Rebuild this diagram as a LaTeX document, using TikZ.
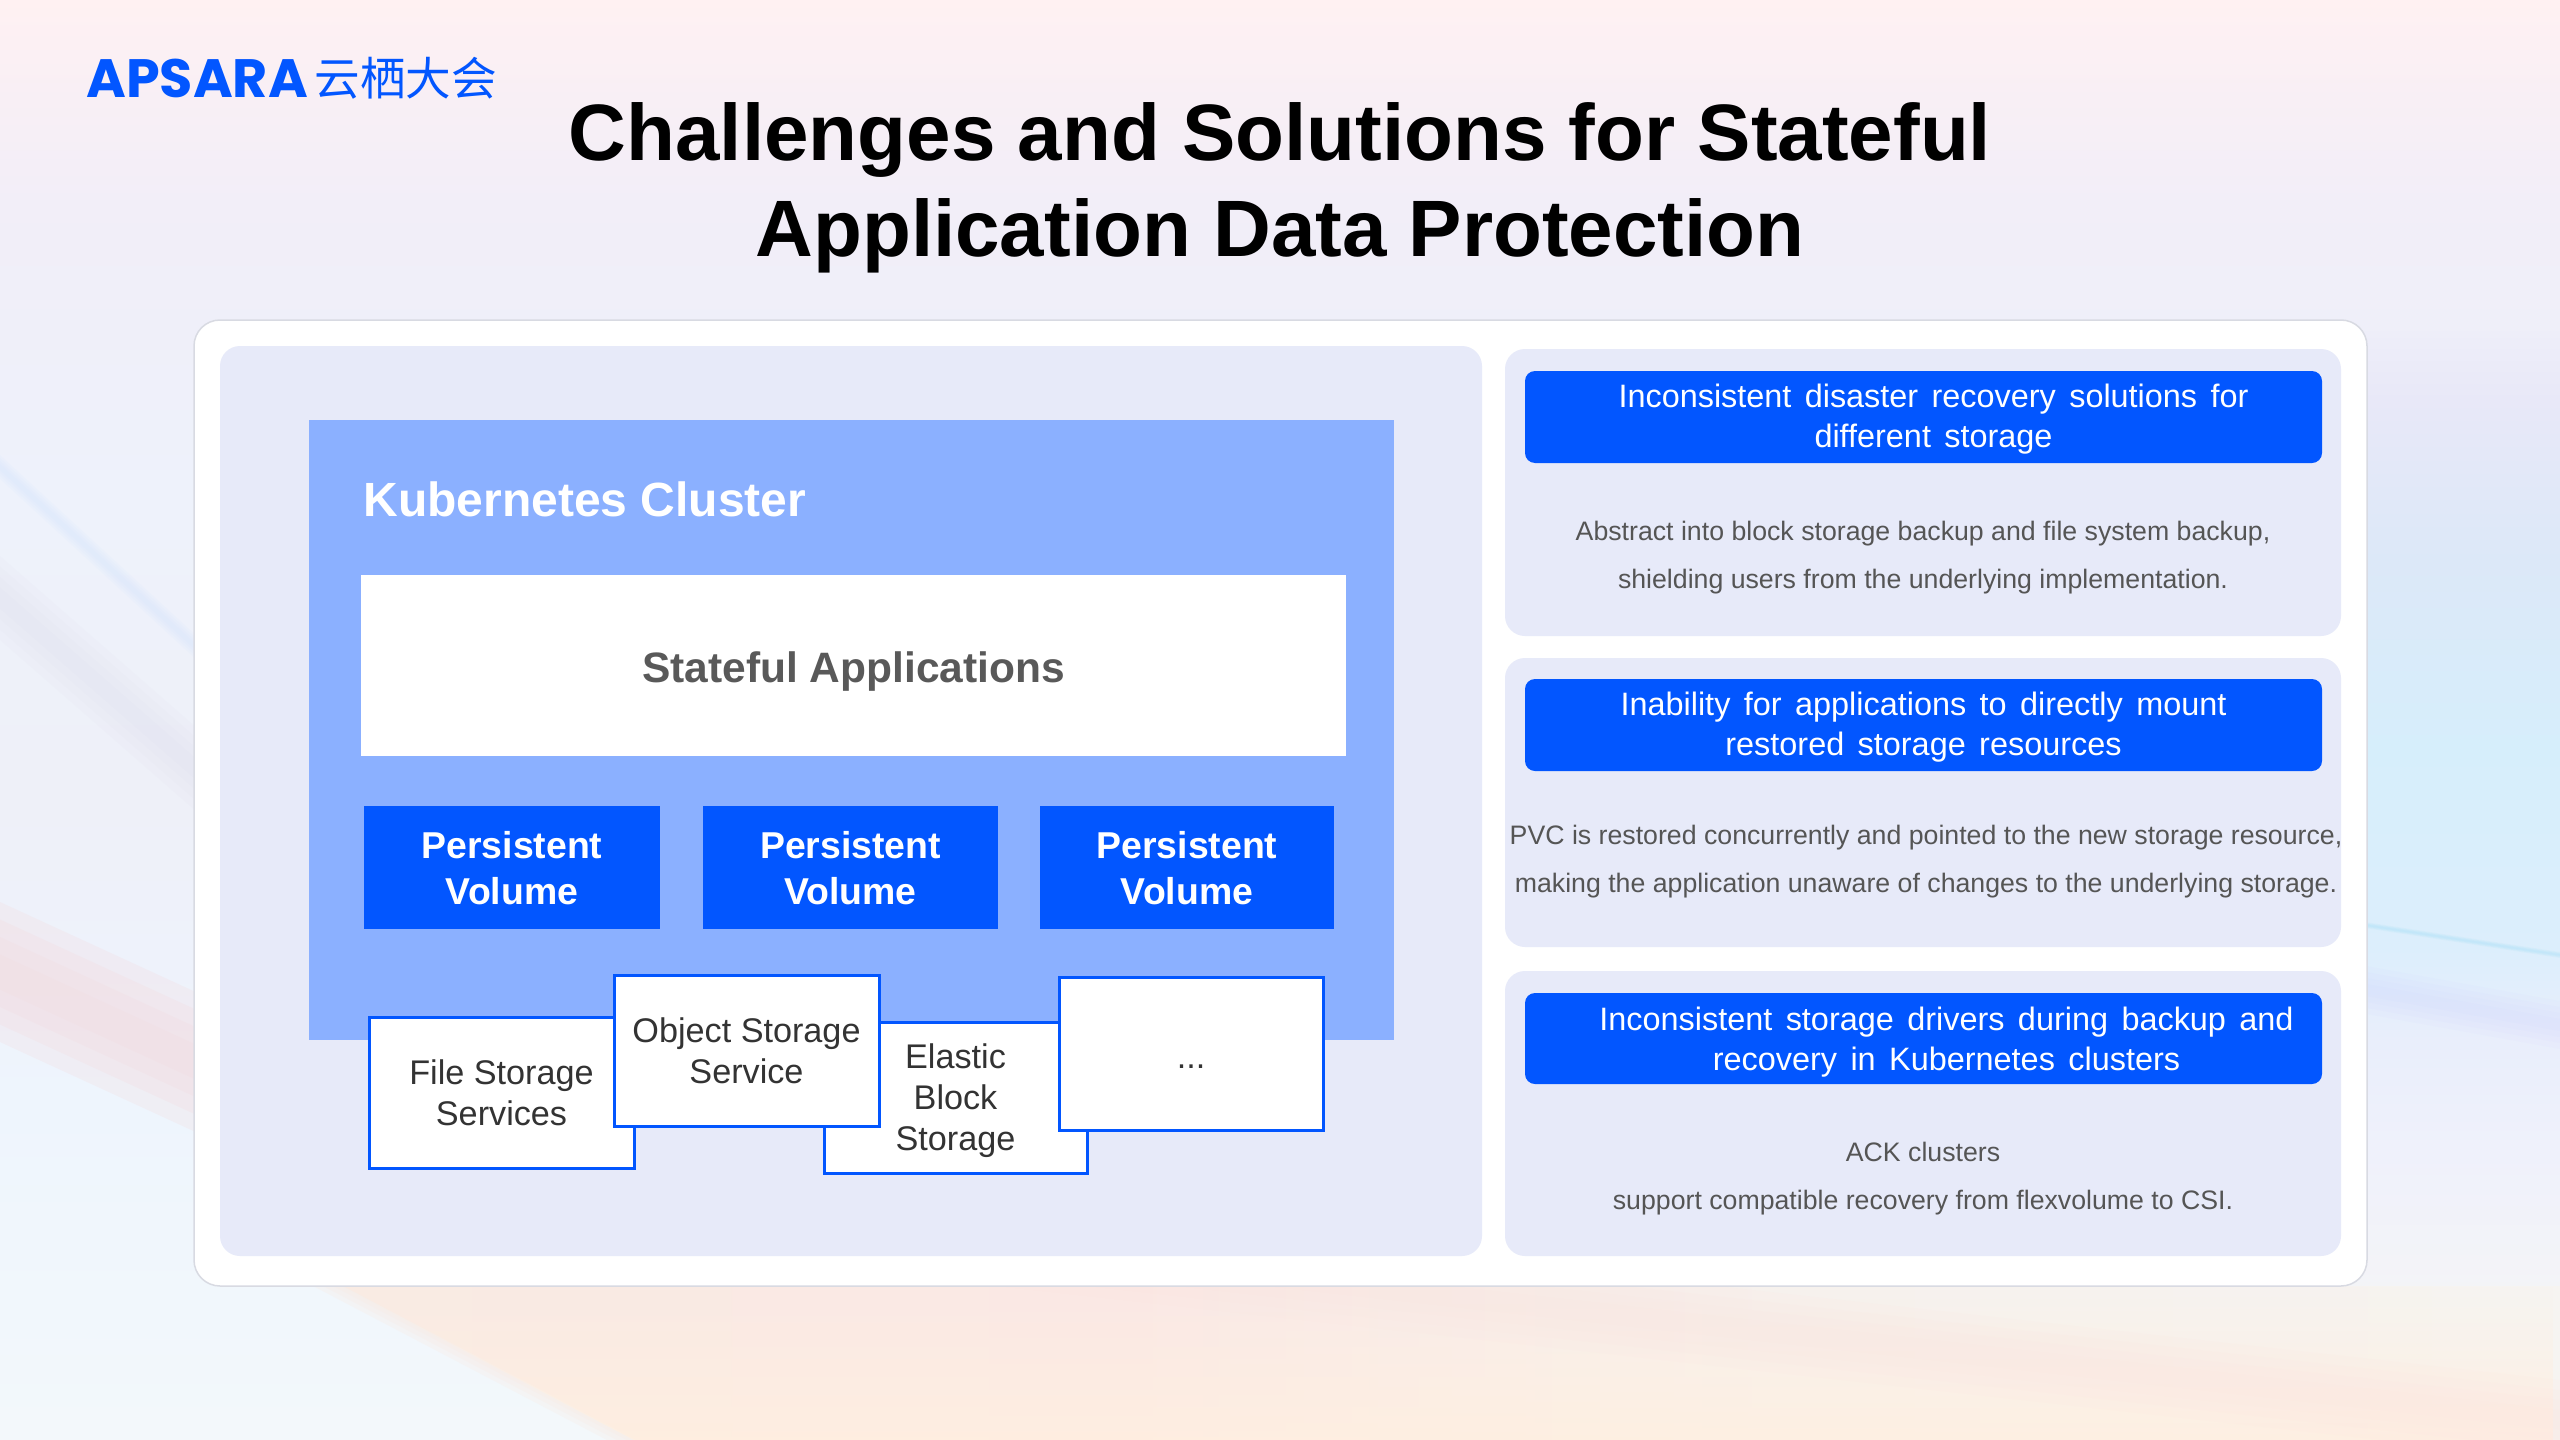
\documentclass[tikz,border=0pt]{standalone}
\usepackage{fontspec}
\usetikzlibrary{fadings,calc}
\setmainfont{Liberation Sans}
\newfontfamily\headfont[WordSpace=1.2]{Liberation Sans}
\newfontfamily\headwidefont[WordSpace=1.49]{Liberation Sans}
\newfontfamily\cjkfont{Noto Sans CJK SC}
\newfontfamily\logofont{Poppins}
\definecolor{brand}{HTML}{0256FF}
\definecolor{sky}{HTML}{8BB0FF}
\definecolor{panel}{HTML}{E7EAF9}
\definecolor{bodytext}{HTML}{555555}
\definecolor{darktext}{HTML}{333333}
\definecolor{appstext}{HTML}{595959}
\definecolor{sheetedge}{HTML}{D8DAE2}
% backdrop palette
\definecolor{bgA}{HTML}{FFF1F2}
\definecolor{bgB}{HTML}{F8EFF5}
\definecolor{bgC}{HTML}{F2EEF8}
\definecolor{bgD}{HTML}{EFEFF9}
\definecolor{rA}{HTML}{E8E8F8}
\definecolor{rB}{HTML}{DCE8F8}
\definecolor{rC}{HTML}{D6EEFB}
\definecolor{rD}{HTML}{DCEEFC}
\definecolor{rE}{HTML}{E9EEFB}
\definecolor{rF}{HTML}{EFF1FB}
\definecolor{rG}{HTML}{F4F4F7}
\definecolor{rH}{HTML}{FAF5F1}
\definecolor{rI}{HTML}{FDEAE2}
\definecolor{lA}{HTML}{EEF2FB}
\definecolor{lB}{HTML}{EEF0F8}
\definecolor{lC}{HTML}{F3DCE0}
\definecolor{lD}{HTML}{EEF5FD}
\definecolor{lE}{HTML}{F3F8FB}
\definecolor{pA}{HTML}{F9EBE4}
\definecolor{pB}{HTML}{FAE8E5}
\definecolor{pC}{HTML}{F6F2EE}
\definecolor{pD}{HTML}{F6F4F1}
\definecolor{peachglow}{HTML}{FFEFE0}
\definecolor{pinkband}{HTML}{FDE6E1}
% TikZ maps the 25bp--75bp span of a shading onto the filled path
\pgfdeclareverticalshading{topwash}{100bp}{color(0bp)=(bgD); color(25bp)=(bgD); color(44.5bp)=(bgC); color(60bp)=(bgB); color(75bp)=(bgA); color(100bp)=(bgA)}
\pgfdeclareverticalshading{rightwash}{100bp}{color(0bp)=(rI); color(25bp)=(rI); color(26.8bp)=(rH); color(31.25bp)=(rG); color(38bp)=(rF); color(42.85bp)=(rE); color(46.9bp)=(rD); color(55.8bp)=(rC); color(64.3bp)=(rB); color(71.4bp)=(rA); color(75bp)=(bgD); color(100bp)=(bgD)}
\pgfdeclareverticalshading{leftwash}{100bp}{color(0bp)=(lE); color(25bp)=(lE); color(40.2bp)=(lD); color(46.4bp)=(lA); color(53.6bp)=(lB); color(67bp)=(lA); color(75bp)=(bgD); color(100bp)=(bgD)}
\pgfdeclarehorizontalshading{peachwash}{100bp}{color(0bp)=(pA); color(25bp)=(pA); color(42.5bp)=(pB); color(57.5bp)=(pC); color(75bp)=(pD); color(100bp)=(pD)}
\tikzset{
  sheet/.style={fill=white, draw=sheetedge, line width=0.75pt, rounded corners=13pt},
  cardbox/.style={fill=panel, rounded corners=10pt},
  appsbox/.style={fill=white, text=appstext, font=\bfseries\fontsize{21.25}{25}\selectfont, inner sep=0pt, text depth=0pt, text height=16.6pt},
  headbox/.style={fill=brand, rounded corners=5pt, text=white, align=center, font=\headfont\fontsize{16.21}{20}\selectfont, inner sep=0pt, text depth=1.6pt},
  volbox/.style={fill=brand, text=white, align=center, font=\bfseries\fontsize{18.7}{23}\selectfont, inner sep=0pt, text depth=-1.6pt},
  storebox/.style={draw=brand, line width=1.5pt, fill=white, text=darktext, align=center, font=\fontsize{17.1}{20.5}\selectfont, inner sep=0pt},
  note/.style={text=bodytext, align=center, font=\fontsize{13.35}{24}\selectfont, inner sep=0pt},
}
\newcommand{\boxat}[5]{\node[#1, minimum width=(#4-#2)*0.5pt, minimum height=(#5-#3)*0.5pt] at ({(#2+#4)/2},{(#3+#5)/2})}
% soft diagonal streak: four nested translucent bands between two edges
\newcommand{\streak}[7]{%
  \foreach \w in {1,0.75,0.5,0.25}{
    \fill[#1, opacity=#2] (#3,{#4-\w*#7}) -- (#5,{#6-\w*#7}) -- (#5,{#6+\w*#7}) -- (#3,{#4+\w*#7}) -- cycle;
  }}
\begin{document}
\begin{tikzpicture}[x=0.5pt,y=-0.5pt]
\useasboundingbox (0,0) rectangle (2560,1440);
\clip (0,0) rectangle (2560,1440);
% backdrop washes
\shade[shading=leftwash] (0,320) rectangle (760,1440);
\shade[shading=rightwash] (2300,320) rectangle (2560,1440);
\shade[shading=topwash] (0,0) rectangle (2560,330);
\streak{lC}{0.28}{0}{972}{300}{1110}{70}
\streak{blue!50!cyan!30!white}{0.05}{0}{467}{300}{743}{12}
\streak{blue!30!gray!30!white}{0.06}{0}{598}{300}{860}{42}
\streak{cyan!40!white}{0.1}{2300}{915}{2560}{955}{3}
\streak{blue!30!white}{0.035}{2300}{978}{2560}{1025}{24}
% warm glow under the sheet, its left edge feathered
\foreach \dx in {-30,-20,-10}{
  \fill[pA, opacity=0.3] ({343+\dx},1286) -- ({637+\dx},1440) -- (800,1440) -- (800,1286) -- cycle;
}
\shade[shading=peachwash] (343,1286) -- (637,1440) -- (2560,1440) -- (2560,1286) -- cycle;
\fill[peachglow, path fading=north, fill opacity=0.85] (343,1286) -- (637,1440) -- (2560,1440) -- (2560,1286) -- cycle;
\streak{pinkband}{0.16}{800}{1224}{2560}{1420}{40}
% main sheet and its panels
\path[sheet] (194,320) rectangle (2367,1286);
\fill[cardbox] (220,346) rectangle (1482,1256);
\fill[sky] (309,420) rectangle (1394,1040);
\node[anchor=west, text=white, font=\bfseries\fontsize{24}{28}\selectfont, inner sep=0pt] (cluster) at (363,499) {Kubernetes Cluster};
\boxat{appsbox}{361}{575}{1346}{756} (apps) {Stateful Applications};
\boxat{volbox}{364}{806}{660}{929} (pv1) {Persistent\\Volume};
\boxat{volbox}{703}{806}{998}{929} (pv2) {Persistent\\Volume};
\boxat{volbox}{1040}{806}{1334}{929} (pv3) {Persistent\\Volume};
% storage backends, overlapping in drawing order
\boxat{storebox}{369}{1017}{634}{1168} (file) {File Storage\\Services};
\boxat{storebox,text depth=0pt}{824}{1022}{1087}{1173} (ebs) {Elastic\\Block\\Storage};
\boxat{storebox}{614}{975}{879}{1126} (oss) {Object Storage\\Service};
\boxat{storebox,text height=15pt}{1059}{977}{1323}{1130} (more) {...};
% right-hand cards
\fill[cardbox] (1505,349) rectangle (2341,636);
\fill[cardbox] (1505,658) rectangle (2341,947);
\fill[cardbox] (1505,971) rectangle (2341,1256);
\boxat{headbox,font=\headwidefont\fontsize{16.2}{20}\selectfont}{1525}{371}{2322}{463} (h1) {\hspace*{10pt}Inconsistent disaster recovery solutions for\\ \hspace*{10pt}different storage};
\boxat{headbox}{1525}{679}{2322}{771} (h2) {Inability for applications to directly mount\\restored storage resources};
\boxat{headbox,text depth=-1.7pt}{1525}{993}{2322}{1084} (h3) {\hspace*{23pt}Inconsistent storage drivers during backup and\\ \hspace*{23pt}recovery in Kubernetes clusters};
\node[note] (n1) at (1923,558) {Abstract into block storage backup and file system backup,\\shielding users from the underlying implementation.};
\node[note] (n2) at (1926,862) {PVC is restored concurrently and pointed to the new storage resource,\\making the application unaware of changes to the underlying storage.};
\node[note] (n3) at (1923,1179) {ACK clusters\\support compatible recovery from flexvolume to CSI.};
% heading and logo
\node[align=center, font=\bfseries\fontsize{40}{48}\selectfont, inner sep=0pt] (title) at (1280,188) {Challenges and Solutions for Stateful\\Application Data Protection};
\node[anchor=west, text=brand, inner sep=0pt, font=\logofont\bfseries\fontsize{27}{27}\selectfont] (brandname) at (86,78) {APSARA};
\node[anchor=west, text=brand, inner sep=0pt, font=\cjkfont\fontsize{22.8}{22.8}\selectfont] (brandcn) at (314,78) {云栖大会};
\end{tikzpicture}
\end{document}
